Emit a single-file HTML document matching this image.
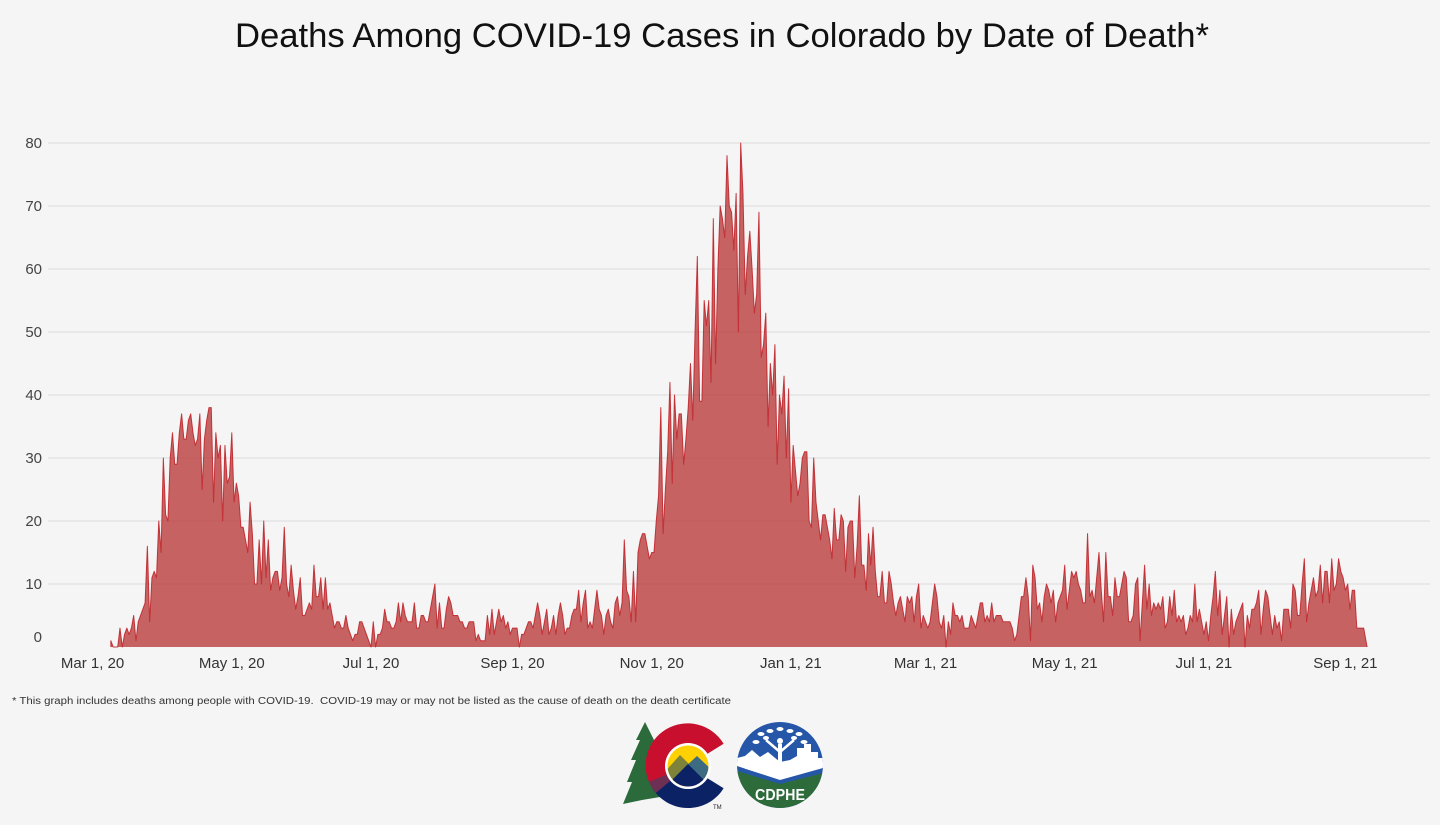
<!DOCTYPE html>
<html>
<head>
<meta charset="utf-8">
<style>
  html,body{margin:0;padding:0;background:#f5f5f5;}
  svg{display:block;}
  text{font-family:"Liberation Sans",Arial,sans-serif;}
</style>
</head>
<body>
<svg width="1440" height="825" viewBox="0 0 1440 825" xmlns="http://www.w3.org/2000/svg">
  <rect x="0" y="0" width="1440" height="825" fill="#f5f5f5"/>

  <!-- Title -->
  <text x="235" y="47" font-size="34" fill="#111" textLength="974" lengthAdjust="spacingAndGlyphs">Deaths Among COVID-19 Cases in Colorado by Date of Death*</text>

  <!-- Gridlines -->
  <g stroke="#e0e0e0" stroke-width="1.2">
    <line x1="48" y1="143" x2="1430" y2="143"/>
    <line x1="48" y1="206" x2="1430" y2="206"/>
    <line x1="48" y1="269" x2="1430" y2="269"/>
    <line x1="48" y1="332" x2="1430" y2="332"/>
    <line x1="48" y1="395" x2="1430" y2="395"/>
    <line x1="48" y1="458" x2="1430" y2="458"/>
    <line x1="48" y1="521" x2="1430" y2="521"/>
    <line x1="48" y1="584" x2="1430" y2="584"/>
  </g>

  <!-- Y labels -->
  <g font-size="15" fill="#444" text-anchor="end">
    <text x="42" y="148">80</text>
    <text x="42" y="211">70</text>
    <text x="42" y="274">60</text>
    <text x="42" y="337">50</text>
    <text x="42" y="400">40</text>
    <text x="42" y="463">30</text>
    <text x="42" y="526">20</text>
    <text x="42" y="589">10</text>
    <text x="42" y="642">0</text>
  </g>

  <!-- Area series -->
  <g transform="translate(92.6,647) scale(2.282,-6.3)">
    <polygon fill="#b52a2a" fill-opacity="0.72" stroke="none" points="8,0 8,1 9,0 10,0 11,0 12,3 13,0 14,2 15,3 16,2 17,3 18,5 19,1
20,4 21,5 22,6 23,7 24,16 25,4 26,11 27,12 28,11 29,20
30,15 31,30 32,21 33,20 34,30 35,34 36,29 37,29 38,34 39,37
40,33 41,33 42,36 43,37 44,34 45,32 46,33 47,37 48,25 49,33
50,36 51,38 52,38 53,23 54,34 55,30 56,32 57,20 58,32 59,26
60,27 61,34 62,23 63,26 64,24 65,19 66,19 67,17 68,15 69,23
70,18 71,10 72,10 73,17 74,10 75,20 76,11 77,17 78,9 79,11
80,12 81,12 82,9 83,11 84,19 85,10 86,8 87,13 88,9 89,6
90,8 91,11 92,5 93,5 94,6 95,7 96,6 97,13 98,8 99,8
100,11 101,6 102,11 103,6 104,7 105,5 106,3 107,4 108,4 109,3
110,3 111,5 112,3 113,2 114,1 115,2 116,2 117,4 118,4 119,3
120,2 121,1 122,0 123,4 124,0 125,2 126,2 127,3 128,6 129,4
130,4 131,3 132,3 133,4 134,7 135,4 136,7 137,5 138,4 139,4
140,4 141,7 142,3 143,3 144,5 145,5 146,4 147,4 148,6 149,8
150,10 151,3 152,7 153,3 154,3 155,6 156,8 157,7 158,5 159,5
160,5 161,4 162,4 163,3 164,3 165,4 166,4 167,4 168,1 169,2
170,1 171,1 172,1 173,5 174,2 175,6 176,2 177,4 178,6 179,4
180,5 181,3 182,4 183,2 184,3 185,3 186,3 187,0 188,2 189,2
190,3 191,4 192,4 193,3 194,5 195,7 196,5 197,2 198,4 199,6
200,2 201,3 202,5 203,2 204,5 205,7 206,5 207,2 208,3 209,3
210,5 211,6 212,6 213,9 214,4 215,7 216,9 217,3 218,4 219,3
220,6 221,9 222,6 223,5 224,2 225,5 226,6 227,4 228,3 229,7
230,8 231,5 232,7 233,17 234,9 235,8 236,4 237,12 238,4 239,15
240,17 241,18 242,18 243,16 244,14 245,15 246,15 247,20 248,24 249,38
250,18 251,25 252,31 253,42 254,26 255,40 256,33 257,37 258,37 259,29
260,33 261,38 262,45 263,36 264,50 265,62 266,39 267,39 268,55 269,51
270,55 271,42 272,68 273,45 274,60 275,70 276,68 277,65 278,78 279,70
280,69 281,63 282,72 283,50 284,80 285,72 286,56 287,62 288,66 289,60
290,53 291,56 292,69 293,46 294,48 295,53 296,35 297,45 298,40 299,48
300,29 301,40 302,37 303,43 304,30 305,41 306,23 307,32 308,28 309,24
310,26 311,30 312,31 313,31 314,20 315,19 316,30 317,23 318,20 319,17
320,21 321,21 322,19 323,17 324,14 325,22 326,17 327,17 328,21 329,20
330,12 331,19 332,20 333,20 334,11 335,16 336,24 337,13 338,13 339,9
340,18 341,13 342,19 343,12 344,8 345,8 346,12 347,7 348,7 349,12
350,10 351,7 352,5 353,7 354,8 355,6 356,4 357,8 358,7 359,8
360,4 361,8 362,10 363,3 364,5 365,4 366,3 367,4 368,7 369,10
370,8 371,4 372,3 373,5 374,0 375,4 376,2 377,7 378,5 379,5
380,4 381,5 382,3 383,3 384,3 385,5 386,4 387,3 388,5 389,7
390,7 391,4 392,5 393,4 394,7 395,4 396,5 397,5 398,5 399,4
400,4 401,4 402,4 403,3 404,1 405,2 406,5 407,8 408,8 409,11
410,8 411,1 412,13 413,11 414,6 415,7 416,4 417,8 418,10 419,9
420,7 421,9 422,4 423,7 424,8 425,9 426,13 427,6 428,9 429,12
430,11 431,12 432,10 433,9 434,7 435,7 436,18 437,8 438,9 439,7
440,11 441,15 442,9 443,4 444,15 445,8 446,8 447,5 448,11 449,8
450,8 451,10 452,12 453,11 454,4 455,4 456,5 457,10 458,11 459,1
460,7 461,13 462,6 463,10 464,5 465,7 466,6 467,7 468,6 469,8
470,3 471,4 472,8 473,5 474,9 475,4 476,5 477,4 478,5 479,2
480,3 481,5 482,4 483,10 484,4 485,6 486,4 487,2 488,4 489,1
490,5 491,8 492,12 493,5 494,9 495,2 496,5 497,8 498,0 499,6
500,2 501,4 502,5 503,6 504,7 505,0 506,5 507,3 508,6 509,6
510,7 511,9 512,2 513,6 514,9 515,8 516,5 517,2 518,5 519,3
520,4 521,1 522,6 523,6 524,6 525,3 526,10 527,9 528,5 529,5
530,10 531,14 532,4 533,7 534,9 535,11 536,8 537,9 538,13 539,7
540,12 541,12 542,7 543,14 544,9 545,10 546,14 547,12 548,11 549,9
550,10 551,6 552,9 553,9 554,3 555,3 556,3 557,3 558,1 558.5,0"/>
    <polyline fill="none" stroke="#c0262c" stroke-width="1" stroke-opacity="0.9" vector-effect="non-scaling-stroke" stroke-linejoin="round" points="8,0 8,1 9,0 10,0 11,0 12,3 13,0 14,2 15,3 16,2 17,3 18,5 19,1
20,4 21,5 22,6 23,7 24,16 25,4 26,11 27,12 28,11 29,20
30,15 31,30 32,21 33,20 34,30 35,34 36,29 37,29 38,34 39,37
40,33 41,33 42,36 43,37 44,34 45,32 46,33 47,37 48,25 49,33
50,36 51,38 52,38 53,23 54,34 55,30 56,32 57,20 58,32 59,26
60,27 61,34 62,23 63,26 64,24 65,19 66,19 67,17 68,15 69,23
70,18 71,10 72,10 73,17 74,10 75,20 76,11 77,17 78,9 79,11
80,12 81,12 82,9 83,11 84,19 85,10 86,8 87,13 88,9 89,6
90,8 91,11 92,5 93,5 94,6 95,7 96,6 97,13 98,8 99,8
100,11 101,6 102,11 103,6 104,7 105,5 106,3 107,4 108,4 109,3
110,3 111,5 112,3 113,2 114,1 115,2 116,2 117,4 118,4 119,3
120,2 121,1 122,0 123,4 124,0 125,2 126,2 127,3 128,6 129,4
130,4 131,3 132,3 133,4 134,7 135,4 136,7 137,5 138,4 139,4
140,4 141,7 142,3 143,3 144,5 145,5 146,4 147,4 148,6 149,8
150,10 151,3 152,7 153,3 154,3 155,6 156,8 157,7 158,5 159,5
160,5 161,4 162,4 163,3 164,3 165,4 166,4 167,4 168,1 169,2
170,1 171,1 172,1 173,5 174,2 175,6 176,2 177,4 178,6 179,4
180,5 181,3 182,4 183,2 184,3 185,3 186,3 187,0 188,2 189,2
190,3 191,4 192,4 193,3 194,5 195,7 196,5 197,2 198,4 199,6
200,2 201,3 202,5 203,2 204,5 205,7 206,5 207,2 208,3 209,3
210,5 211,6 212,6 213,9 214,4 215,7 216,9 217,3 218,4 219,3
220,6 221,9 222,6 223,5 224,2 225,5 226,6 227,4 228,3 229,7
230,8 231,5 232,7 233,17 234,9 235,8 236,4 237,12 238,4 239,15
240,17 241,18 242,18 243,16 244,14 245,15 246,15 247,20 248,24 249,38
250,18 251,25 252,31 253,42 254,26 255,40 256,33 257,37 258,37 259,29
260,33 261,38 262,45 263,36 264,50 265,62 266,39 267,39 268,55 269,51
270,55 271,42 272,68 273,45 274,60 275,70 276,68 277,65 278,78 279,70
280,69 281,63 282,72 283,50 284,80 285,72 286,56 287,62 288,66 289,60
290,53 291,56 292,69 293,46 294,48 295,53 296,35 297,45 298,40 299,48
300,29 301,40 302,37 303,43 304,30 305,41 306,23 307,32 308,28 309,24
310,26 311,30 312,31 313,31 314,20 315,19 316,30 317,23 318,20 319,17
320,21 321,21 322,19 323,17 324,14 325,22 326,17 327,17 328,21 329,20
330,12 331,19 332,20 333,20 334,11 335,16 336,24 337,13 338,13 339,9
340,18 341,13 342,19 343,12 344,8 345,8 346,12 347,7 348,7 349,12
350,10 351,7 352,5 353,7 354,8 355,6 356,4 357,8 358,7 359,8
360,4 361,8 362,10 363,3 364,5 365,4 366,3 367,4 368,7 369,10
370,8 371,4 372,3 373,5 374,0 375,4 376,2 377,7 378,5 379,5
380,4 381,5 382,3 383,3 384,3 385,5 386,4 387,3 388,5 389,7
390,7 391,4 392,5 393,4 394,7 395,4 396,5 397,5 398,5 399,4
400,4 401,4 402,4 403,3 404,1 405,2 406,5 407,8 408,8 409,11
410,8 411,1 412,13 413,11 414,6 415,7 416,4 417,8 418,10 419,9
420,7 421,9 422,4 423,7 424,8 425,9 426,13 427,6 428,9 429,12
430,11 431,12 432,10 433,9 434,7 435,7 436,18 437,8 438,9 439,7
440,11 441,15 442,9 443,4 444,15 445,8 446,8 447,5 448,11 449,8
450,8 451,10 452,12 453,11 454,4 455,4 456,5 457,10 458,11 459,1
460,7 461,13 462,6 463,10 464,5 465,7 466,6 467,7 468,6 469,8
470,3 471,4 472,8 473,5 474,9 475,4 476,5 477,4 478,5 479,2
480,3 481,5 482,4 483,10 484,4 485,6 486,4 487,2 488,4 489,1
490,5 491,8 492,12 493,5 494,9 495,2 496,5 497,8 498,0 499,6
500,2 501,4 502,5 503,6 504,7 505,0 506,5 507,3 508,6 509,6
510,7 511,9 512,2 513,6 514,9 515,8 516,5 517,2 518,5 519,3
520,4 521,1 522,6 523,6 524,6 525,3 526,10 527,9 528,5 529,5
530,10 531,14 532,4 533,7 534,9 535,11 536,8 537,9 538,13 539,7
540,12 541,12 542,7 543,14 544,9 545,10 546,14 547,12 548,11 549,9
550,10 551,6 552,9 553,9 554,3 555,3 556,3 557,3 558,1 558.5,0"/>
  </g>

  <!-- X labels -->
  <g font-size="15" fill="#333" text-anchor="middle">
    <text x="92.6" y="668">Mar 1, 20</text>
    <text x="231.8" y="668">May 1, 20</text>
    <text x="371" y="668">Jul 1, 20</text>
    <text x="512.5" y="668">Sep 1, 20</text>
    <text x="651.7" y="668">Nov 1, 20</text>
    <text x="790.9" y="668">Jan 1, 21</text>
    <text x="925.5" y="668">Mar 1, 21</text>
    <text x="1064.7" y="668">May 1, 21</text>
    <text x="1203.9" y="668">Jul 1, 21</text>
    <text x="1345.4" y="668">Sep 1, 21</text>
  </g>

  <!-- Footnote -->
  <text x="12" y="704" font-size="10" fill="#333" textLength="719" lengthAdjust="spacingAndGlyphs" style="white-space:pre">* This graph includes deaths among people with COVID-19.  COVID-19 may or may not be listed as the cause of death on the death certificate</text>

  <!-- Colorado logo -->
  <g>
    <polygon fill="#2b6a3b" points="645,722 654,740 667,760 667,800 660,797 642,800 623,804 632,782 627,782 636,760 631,760 640,740 636,740"/>
    <path fill="#0b2265" d="M723.6,788.3 A42,42 0 0 1 651.6,787 L668.1,777.5 A23,23 0 0 0 707.5,778.2 Z"/>
    <path fill="#c8102e" d="M651.6,787 A42,42 0 0 1 723.6,743.7 L707.5,753.8 A23,23 0 0 0 668.1,777.5 Z"/>
    <path fill="#6e2f55" d="M655.8,793 A42,42 0 0 1 649.1,781.7 L666.7,774.6 A23,23 0 0 0 670.4,780.8 Z"/>
    <circle cx="688" cy="766" r="23" fill="#ffffff"/>
    <clipPath id="inner"><circle cx="688" cy="766" r="20.5"/></clipPath>
    <g clip-path="url(#inner)">
      <rect x="666" y="744" width="44" height="44" fill="#ffd100"/>
      <polygon fill="#7d8338" points="662,775 680,755 692,767 688,790 662,790"/>
      <polygon fill="#3d6b82" points="684,768 697,756 714,772 714,790 684,790"/>
      <polygon fill="#0b2265" points="660,792 688,764 716,792"/>
    </g>
    <text x="713" y="809" font-size="6" fill="#222">TM</text>
  </g>

  <!-- CDPHE logo -->
  <g>
    <clipPath id="cd"><circle cx="780" cy="765" r="43"/></clipPath>
    <g clip-path="url(#cd)">
      <rect x="737" y="722" width="86" height="86" fill="#2556a8"/>
      <polygon fill="#ffffff" points="737,758 745,756 752,750 760,757 768,752 780,762 790,760 797,756 797,748 804,748 804,744 811,744 811,752 818,752 818,758 823,758 823,768 780,780 737,766"/>
      <polygon fill="#2d6b3b" points="737,771 780,784 823,773 823,808 737,808"/>
      <polyline fill="none" stroke="#ffffff" stroke-width="1.2" points="745,768 780,779 815,769"/>
      <rect x="778" y="744" width="4" height="22" fill="#ffffff"/>
      <circle cx="780" cy="741" r="3" fill="#ffffff"/>
      <path d="M780,752 L766,740 M780,752 L794,740" stroke="#ffffff" stroke-width="2.5" fill="none"/>
      <g fill="#ffffff">
        <ellipse cx="756" cy="742" rx="3.5" ry="2"/>
        <ellipse cx="761" cy="734" rx="3.5" ry="2"/>
        <ellipse cx="770" cy="731" rx="3.5" ry="2"/>
        <ellipse cx="780" cy="729" rx="3.5" ry="2"/>
        <ellipse cx="790" cy="731" rx="3.5" ry="2"/>
        <ellipse cx="799" cy="734" rx="3.5" ry="2"/>
        <ellipse cx="804" cy="742" rx="3.5" ry="2"/>
        <ellipse cx="766" cy="738" rx="3" ry="2"/>
        <ellipse cx="794" cy="738" rx="3" ry="2"/>
      </g>
      <text x="780" y="800" font-size="16" font-weight="bold" fill="#ffffff" text-anchor="middle" textLength="50" lengthAdjust="spacingAndGlyphs">CDPHE</text>
    </g>
  </g>
</svg>
</body>
</html>
